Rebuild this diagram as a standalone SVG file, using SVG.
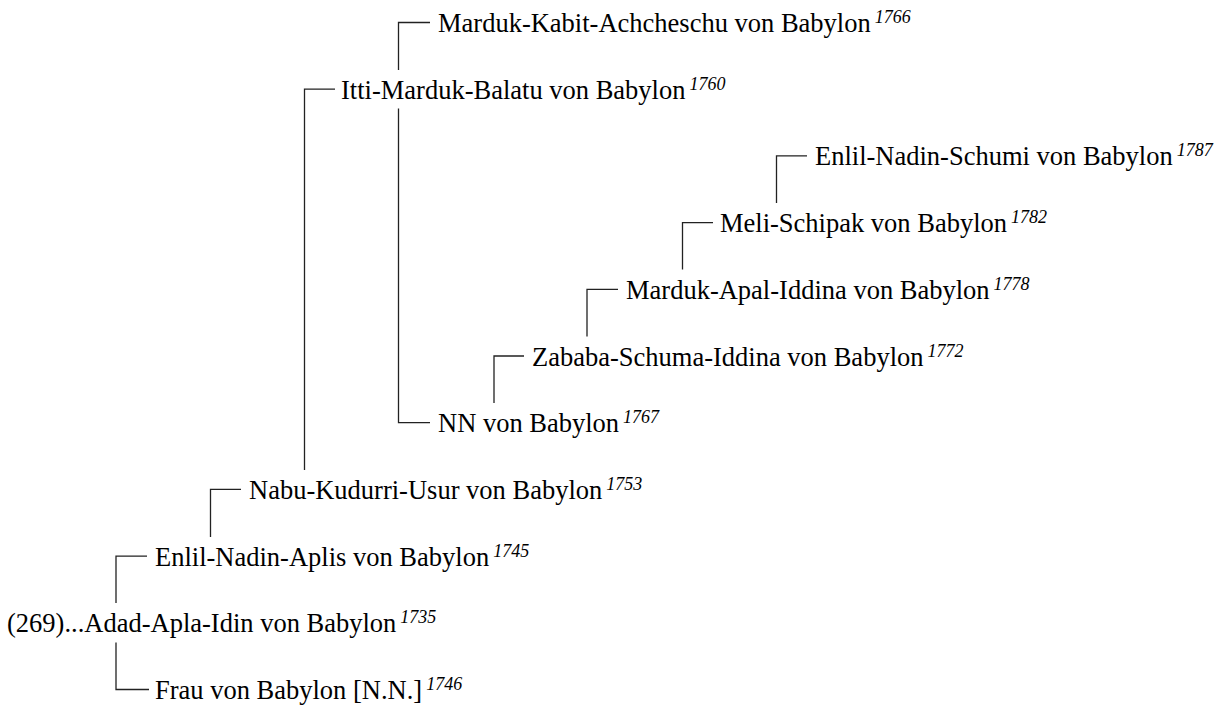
<svg xmlns="http://www.w3.org/2000/svg" width="1221" height="708" viewBox="0 0 1221 708">
<style>
text{font-family:'Liberation Serif','Times New Roman','DejaVu Serif',serif;font-size:26.5px;fill:#000}
.sup{font-style:italic;font-size:18px}
.c{stroke:#222;stroke-width:1.3;fill:none}
</style>
<rect width="1221" height="708" fill="#fff"/>
<g id="connectors">
<path class="c" d="M398.5 70 V22.5 H430"/>
<path class="c" d="M398.5 108.5 V422.7 H430"/>
<path class="c" d="M304.5 470 V89.2 H335"/>
<path class="c" d="M776.5 203 V155.9 H807"/>
<path class="c" d="M682.5 269.5 V222.6 H713"/>
<path class="c" d="M587 336.5 V289.3 H618"/>
<path class="c" d="M494 403 V356 H524"/>
<path class="c" d="M210.5 537 V489.4 H241"/>
<path class="c" d="M116 603 V556.1 H147"/>
<path class="c" d="M116 642.5 V689.5 H149"/>
</g>
<g id="n1766"><text x="438" y="32" font-family="Liberation Serif, serif">Marduk-Kabit-Achcheschu von Babylon<tspan class="sup" dx="4" dy="-9">1766</tspan></text></g>
<g id="n1760"><text x="341" y="98.7" font-family="Liberation Serif, serif">Itti-Marduk-Balatu von Babylon<tspan class="sup" dx="4" dy="-9">1760</tspan></text></g>
<g id="n1787"><text x="815" y="165.4" font-family="Liberation Serif, serif">Enlil-Nadin-Schumi von Babylon<tspan class="sup" dx="4" dy="-9">1787</tspan></text></g>
<g id="n1782"><text x="720" y="232.1" font-family="Liberation Serif, serif">Meli-Schipak von Babylon<tspan class="sup" dx="4" dy="-9">1782</tspan></text></g>
<g id="n1778"><text x="626" y="298.8" font-family="Liberation Serif, serif">Marduk-Apal-Iddina von Babylon<tspan class="sup" dx="4" dy="-9">1778</tspan></text></g>
<g id="n1772"><text x="532" y="365.5" font-family="Liberation Serif, serif">Zababa-Schuma-Iddina von Babylon<tspan class="sup" dx="4" dy="-9">1772</tspan></text></g>
<g id="n1767"><text x="438" y="432.2" font-family="Liberation Serif, serif">NN von Babylon<tspan class="sup" dx="4" dy="-9">1767</tspan></text></g>
<g id="n1753"><text x="249" y="498.9" font-family="Liberation Serif, serif">Nabu-Kudurri-Usur von Babylon<tspan class="sup" dx="4" dy="-9">1753</tspan></text></g>
<g id="n1745"><text x="155" y="565.6" font-family="Liberation Serif, serif">Enlil-Nadin-Aplis von Babylon<tspan class="sup" dx="4" dy="-9">1745</tspan></text></g>
<g id="n1735"><text x="7" y="632.3" font-family="Liberation Serif, serif">(269)...Adad-Apla-Idin von Babylon<tspan class="sup" dx="4" dy="-9">1735</tspan></text></g>
<g id="n1746"><text x="155" y="699" font-family="Liberation Serif, serif">Frau von Babylon [N.N.]<tspan class="sup" dx="4" dy="-9">1746</tspan></text></g>
</svg>
